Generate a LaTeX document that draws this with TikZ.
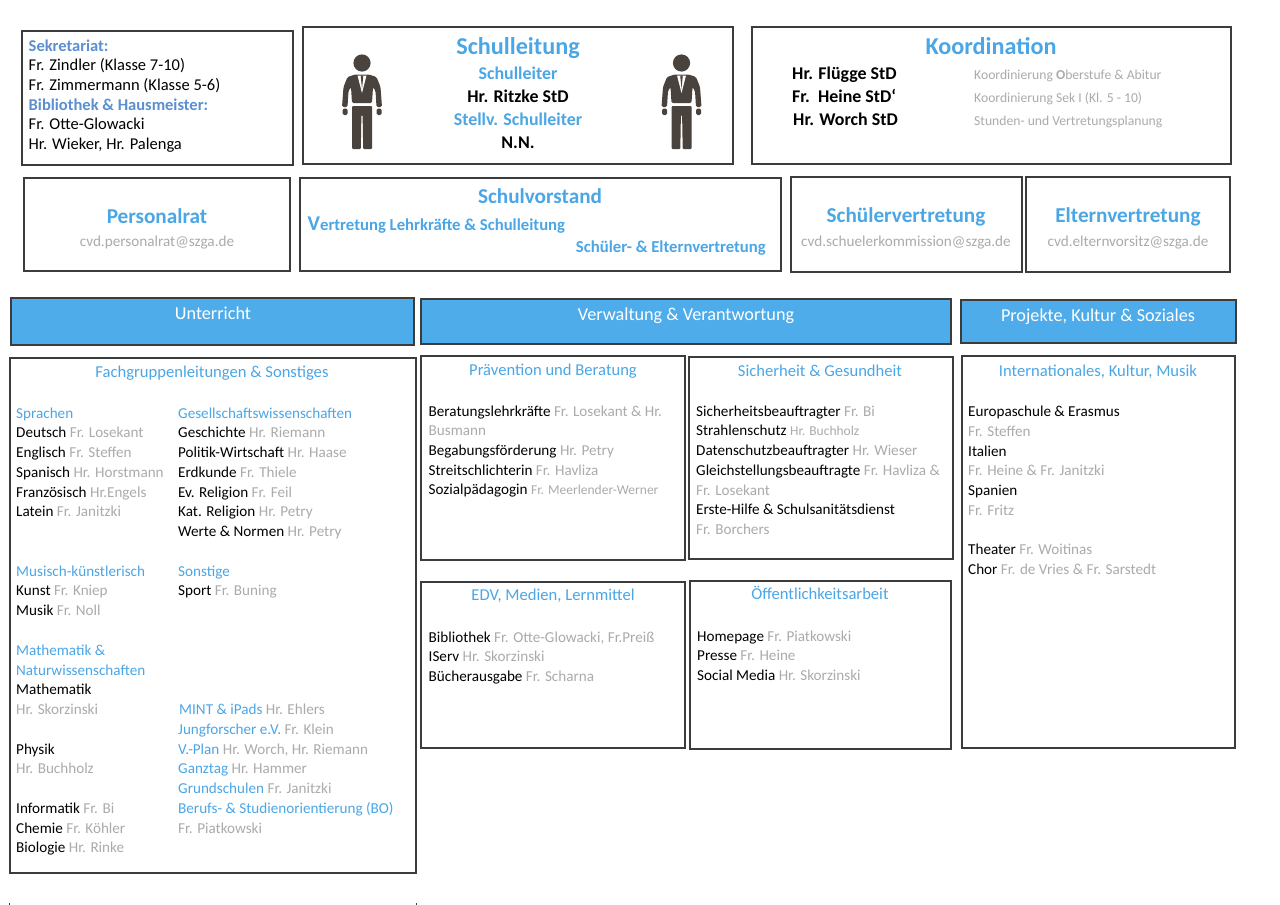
\documentclass[tikz,border=0pt]{standalone}
\usepackage{fontspec}
\setmainfont{Carlito}
\definecolor{hellblau}{HTML}{4FACEB}
\definecolor{titelblau}{HTML}{4BA6E6}
\definecolor{sekblau}{HTML}{5B8FD0}
\definecolor{namegrau}{HTML}{ABABAB}
\definecolor{rahmen}{HTML}{3C3C3C}
\definecolor{figur}{HTML}{4A423C}
\newcommand{\who}[2]{#1 \textcolor{namegrau}{#2}}
\newcommand{\blau}[1]{\textcolor{titelblau}{#1}}
\newcommand{\grau}[1]{\textcolor{namegrau}{#1}}
\tikzset{
  panel/.style={draw=rahmen,line width=1.1pt,fill=white,inner sep=0pt},
  bar/.style={draw=rahmen,line width=1.1pt,fill=hellblau,inner sep=0pt},
  entry/.style={anchor=base west,inner sep=0pt,font=\fontsize{15.15}{18}\selectfont},
  small/.style={entry,text=namegrau,font=\fontsize{13.65}{16}\selectfont},
  head/.style={anchor=base,inner sep=0pt,text=titelblau,font=\fontsize{24.2}{27}\selectfont\bfseries},
  subhead/.style={anchor=base,inner sep=0pt,text=titelblau,font=\fontsize{21.2}{24}\selectfont\bfseries},
  role/.style={anchor=base,inner sep=0pt,font=\fontsize{17.9}{20}\selectfont\bfseries},
  mail/.style={anchor=base,inner sep=0pt,text=namegrau,font=\fontsize{15.2}{18}\selectfont},
  bartext/.style={anchor=base,inner sep=0pt,text=white,font=\fontsize{18.2}{20}\selectfont},
  group/.style={anchor=base,inner sep=0pt,text=titelblau,font=\fontsize{16.6}{20}\selectfont},
  person/.pic={
    \fill[figur] (0,18) circle (8.6);
    % jacket with arms
    \fill[figur,rounded corners=1.5pt] (-7,29.5) -- (-14.5,32) -- (-18.5,42) -- (-20,62) -- (-14.5,62) -- (-13.5,46) -- (-11,42)
      -- (-10,58) -- (10,58) -- (11,42) -- (13.5,46) -- (14.5,62) -- (20,62) -- (18.5,42) -- (14.5,32) -- (7,29.5) -- cycle;
    \fill[white] (-4.5,30.5) -- (0,48) -- (4.5,30.5) -- cycle;
    \fill[figur] (-1.3,30.5) -- (0,44) -- (1.3,30.5) -- cycle;
    % hands and legs
    \fill[figur,rounded corners=1.5pt] (-19.5,63.5) rectangle (-14.5,70);
    \fill[figur,rounded corners=1.5pt] (14.5,63.5) rectangle (19.5,70);
    \fill[figur,rounded corners=1pt] (-10,61) -- (10,61) -- (10,104) -- (1.2,104) -- (0.6,70) -- (-0.6,70) -- (-1.2,104) -- (-10,104) -- cycle;
  }
}
\begin{document}
\begin{tikzpicture}[x=1pt,y=-1pt]
\useasboundingbox (0,0) rectangle (1280,905);
\foreach \name/\xa/\ya/\xb/\yb in {sekretariat/22/31/293/165,schulleitung/303/27/733/164,koordination/752/27/1231/164,
    personalrat/24/178/290/271,schulvorstand/300/178/781/271,schuelervertretung/791/177/1022/272,elternvertretung/1026/177/1230/272,
    fachgruppen/10/358/416/873,praevention/421/356/685/560,sicherheit/689/357/953/559,edv/421/582/685/748,oeffentlichkeit/690/581/951/749,
    internationales/962/356/1235/748}
    \node[panel,minimum width={(\xb-\xa)*1pt},minimum height={(\yb-\ya)*1pt}] (\name) at ({(\xa+\xb)/2},{(\ya+\yb)/2}) {};
\foreach \name/\xa/\ya/\xb/\yb in {unterricht/11/298/414/345,verwaltung/421/299/951/344,projekte/961/300/1236/343}
    \node[bar,minimum width={(\xb-\xa)*1pt},minimum height={(\yb-\ya)*1pt}] (\name) at ({(\xa+\xb)/2},{(\ya+\yb)/2}) {};

% top row
\foreach \line [count=\i from 0] in {{\textcolor{sekblau}{\bfseries Sekretariat:}},{Fr. Zindler (Klasse 7-10)},{Fr. Zimmermann (Klasse 5-6)},
    {\textcolor{sekblau}{\bfseries Bibliothek \& Hausmeister:}},{Fr. Otte-Glowacki},{Hr. Wieker, Hr. Palenga}}
    \node[entry,font=\fontsize{16.5}{18}\selectfont] (sek\i) at (28.5,{51+19.7*\i}) {\line};
\pic at (362,45) {person};
\pic at (681.5,45) {person};
\node[head] (leitungtitel) at (518,54.5) {Schulleitung};
\node[role,text=titelblau] (leiter) at (518,79) {Schulleiter};
\node[role] (ritzke) at (518,102) {Hr. Ritzke StD};
\node[role,text=titelblau] (stellv) at (518,125) {Stellv. Schulleiter};
\node[role] (nn) at (518,148) {N.N.};
\node[head] (koordtitel) at (991,54.5) {Koordination};
\node[role,anchor=base west] (fluegge) at (792,79) {Hr. Flügge StD};
\node[role,anchor=base west] (heine) at (792,102) {Fr.\ \ Heine StD‘};
\node[role,anchor=base west] (worch) at (793,125) {Hr. Worch StD};
\node[small] (aufgabe1) at (974,79) {Koordinierung {\bfseries O}berstufe \& Abitur};
\node[small] (aufgabe2) at (974,102) {Koordinierung Sek I (Kl. 5 - 10)};
\node[small] (aufgabe3) at (974,125) {Stunden- und Vertretungsplanung};

% second row
\node[subhead] (rattitel) at (157,223) {Personalrat};
\node[mail] (ratmail) at (157,246) {cvd.personalrat@szga.de};
\node[subhead] (vorstandtitel) at (540,203) {Schulvorstand};
\node[role,font=\fontsize{16.7}{20}\selectfont\bfseries,text=titelblau,anchor=base west] (vorstand1) at (307.5,230) {{\fontsize{21}{24}\selectfont V}ertretung Lehrkräfte \& Schulleitung};
\node[role,font=\fontsize{16.7}{20}\selectfont\bfseries,text=titelblau,anchor=base east] (vorstand2) at (766,252.5) {Schüler- \& Elternvertretung};
\node[subhead] (schuelertitel) at (906,222) {Schülervertretung};
\node[mail] (schuelermail) at (906,246) {cvd.schuelerkommission@szga.de};
\node[subhead] (elterntitel) at (1128,222) {Elternvertretung};
\node[mail] (elternmail) at (1128,246) {cvd.elternvorsitz@szga.de};

% bars
\node[bartext] (unterrichttext) at (213,319.5) {Unterricht};
\node[bartext] (verwaltungtext) at (686,320.5) {Verwaltung \& Verantwortung};
\node[bartext] (projektetext) at (1098,321) {Projekte, Kultur \& Soziales};

% Fachgruppen
\node[group] (fachtitel) at (212,377) {Fachgruppenleitungen \& Sonstiges};
\foreach \line [count=\i from 0] in {{\blau{Sprachen}},{\who{Deutsch}{Fr. Losekant}},{\who{Englisch}{Fr. Steffen}},{\who{Spanisch}{Hr. Horstmann}},
    {\who{Französisch}{Hr.Engels}},{\who{Latein}{Fr. Janitzki}},{},{},{\blau{Musisch-künstlerisch}},{\who{Kunst}{Fr. Kniep}},{\who{Musik}{Fr. Noll}},{},
    {\blau{Mathematik \&}},{\blau{Naturwissenschaften}},{Mathematik},{\grau{Hr. Skorzinski}},{},{Physik},{\grau{Hr. Buchholz}},{},
    {\who{Informatik}{Fr. Bi}},{\who{Chemie}{Fr. Köhler}},{\who{Biologie}{Hr. Rinke}}}
    \node[entry] (linkeszeile\i) at (16,{418+19.77*\i}) {\line};
\foreach \line [count=\i from 0] in {{\blau{Gesellschaftswissenschaften}},{\who{Geschichte}{Hr. Riemann}},{\who{Politik-Wirtschaft}{Hr. Haase}},{\who{Erdkunde}{Fr. Thiele}},
    {\who{Ev. Religion}{Fr. Feil}},{\who{Kat. Religion}{Hr. Petry}},{\who{Werte \& Normen}{Hr. Petry}},{},{\blau{Sonstige}},{\who{Sport}{Fr. Buning}},{},{},{},{},{},
    {\hspace{1pt}\who{\blau{MINT \& iPads}}{Hr. Ehlers}},{\who{\blau{Jungforscher e.V.}}{Fr. Klein}},{\who{\blau{V.-Plan}}{Hr. Worch, Hr. Riemann}},{\who{\blau{Ganztag}}{Hr. Hammer}},
    {\who{\blau{Grundschulen}}{Fr. Janitzki}},{\blau{Berufs- \& Studienorientierung (BO)}},{\grau{Fr. Piatkowski}}}
    \node[entry] (rechteszeile\i) at (178,{418+19.77*\i}) {\line};

% Verwaltung
\node[group] (praeventiontitel) at (553,375) {Prävention und Beratung};
\foreach \line [count=\i from 0] in {{\who{Beratungslehrkräfte}{Fr. Losekant \& Hr.}},{\grau{Busmann}},{\who{Begabungsförderung}{Hr. Petry}},
    {\who{Streitschlichterin}{Fr. Havliza}},{Sozialpädagogin \textcolor{namegrau}{\fontsize{13.5}{16}\selectfont Fr. Meerlender-Werner}}}
    \node[entry] (praevention\i) at (428.5,{416+19.7*\i}) {\line};
\node[group] (sicherheittitel) at (820,376) {Sicherheit \& Gesundheit};
\foreach \line [count=\i from 0] in {{\who{Sicherheitsbeauftragter}{Fr. Bi}},{Strahlenschutz \textcolor{namegrau}{\fontsize{13.5}{16}\selectfont Hr. Buchholz}},{\who{Datenschutzbeauftragter}{Hr. Wieser}},
    {\who{Gleichstellungsbeauftragte}{Fr. Havliza \&}},{\grau{Fr. Losekant}},{Erste-Hilfe \& Schulsanitätsdienst},{\grau{Fr. Borchers}}}
    \node[entry] (sicherheit\i) at (696,{416+19.75*\i}) {\line};
\node[group] (edvtitel) at (553,600) {EDV, Medien, Lernmittel};
\foreach \line [count=\i from 0] in {{\who{Bibliothek}{Fr. Otte-Glowacki, Fr.Preiß}},{\who{IServ}{Hr. Skorzinski}},{\who{Bücherausgabe}{Fr. Scharna}}}
    \node[entry] (edv\i) at (428.5,{642+19.7*\i}) {\line};
\node[group] (oeffentlichkeittitel) at (820,599.5) {Öffentlichkeitsarbeit};
\foreach \line [count=\i from 0] in {{\who{Homepage}{Fr. Piatkowski}},{\who{Presse}{Fr. Heine}},{\who{Social Media}{Hr. Skorzinski}}}
    \node[entry] (oeffentlichkeit\i) at (697,{641+19.7*\i}) {\line};

% Projekte
\node[group] (internationaltitel) at (1098,376) {Internationales, Kultur, Musik};
\foreach \line [count=\i from 0] in {{Europaschule \& Erasmus},{\grau{Fr. Steffen}},{Italien},{\grau{Fr. Heine \& Fr. Janitzki}},{Spanien},{\grau{Fr. Fritz}},{},
    {\who{Theater}{Fr. Woitinas}},{\who{Chor}{Fr. de Vries \& Fr. Sarstedt}}}
    \node[entry] (international\i) at (968,{416.5+19.75*\i}) {\line};

% ticks at the lower edge
\draw[rahmen,line width=.8pt] (9,903) -- (9,905);
\draw[rahmen,line width=.8pt] (416,903) -- (416,905);
\end{tikzpicture}
\end{document}
